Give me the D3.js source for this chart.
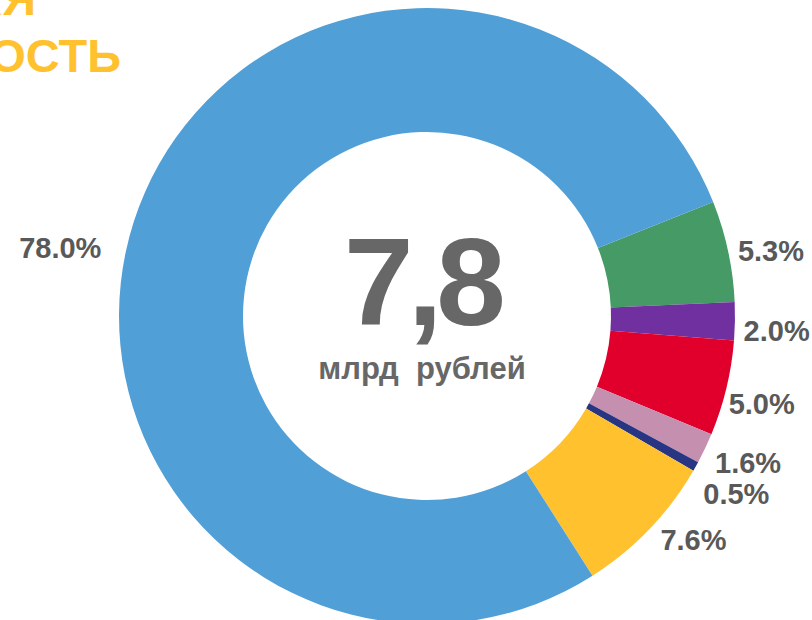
<!DOCTYPE html>
<html><head><meta charset="utf-8">
<script src="https://cdn.jsdelivr.net/npm/d3@7"></script>
<style>html,body{margin:0;padding:0;background:#fff;overflow:hidden}</style>
</head><body>
<svg id="chart" width="812" height="620"></svg>
<script>
// Data (clockwise order starting at green segment)
const categories = ["Сегмент 1", "Сегмент 2", "Сегмент 3", "Сегмент 4", "Сегмент 5", "Сегмент 6", "Сегмент 7"];
const shares = [5.3, 2.0, 5.0, 1.6, 0.5, 7.6, 78.0];
const labels = ["5.3%", "2.0%", "5.0%", "1.6%", "0.5%", "7.6%", "78.0%"];
const colors = ["#459A66", "#7030A0", "#E0002B", "#C58FB0", "#283583", "#FFC22E", "#519FD7"];
const totalValue = "7,8";
const totalUnit = "млрд  рублей";
const titleLines = ["ИНВЕСТИЦИОННАЯ", "ДОХОДНОСТЬ"];

// layout
const cx = 427, cy = 316, R = 308, r = 184;
const startDeg = 68.3;
// label placement tweaks: [angle offset deg, radius]
const labelPlace = [[1.5, 350], [1.5, 350], [1.1, 346], [-0.9, 353], [0.7, 357], [-3.8, 348], [-7.4, 373]];

const svg = d3.select("#chart");
const rad = d => d * Math.PI / 180;

const pie = d3.pie().sort(null).value(d => d)
  .startAngle(rad(startDeg)).endAngle(rad(startDeg + 360));
const arcs = pie(shares);
const arc = d3.arc().innerRadius(r).outerRadius(R);

const g = svg.append("g").attr("transform", `translate(${cx},${cy})`);
g.selectAll("path.slice").data(arcs).join("path")
  .attr("class", "slice")
  .attr("d", arc)
  .attr("fill", (d, i) => colors[i]);

// labels
g.selectAll("text.lbl").data(arcs).join("text")
  .attr("class", "lbl")
  .attr("x", (d, i) => {
    const a = (d.startAngle + d.endAngle) / 2 + rad(labelPlace[i][0]);
    return Math.sin(a) * labelPlace[i][1];
  })
  .attr("y", (d, i) => {
    const a = (d.startAngle + d.endAngle) / 2 + rad(labelPlace[i][0]);
    return -Math.cos(a) * labelPlace[i][1];
  })
  .attr("text-anchor", "middle")
  .attr("dominant-baseline", "central")
  .attr("font-family", "'Liberation Sans', Arial, sans-serif")
  .attr("font-weight", "bold")
  .attr("font-size", 29)
  .attr("fill", "#595959")
  .text((d, i) => labels[i]);

// center text
svg.append("text")
  .attr("x", 422).attr("y", 325)
  .attr("text-anchor", "middle")
  .attr("font-family", "'Liberation Sans', Arial, sans-serif")
  .attr("font-weight", "bold")
  .attr("font-size", 125)
  .attr("letter-spacing", -6)
  .attr("fill", "#676767")
  .text(totalValue);
svg.append("text")
  .attr("x", 422).attr("y", 379)
  .attr("text-anchor", "middle")
  .attr("font-family", "'Liberation Sans', Arial, sans-serif")
  .attr("font-weight", "bold")
  .attr("font-size", 31)
  .attr("fill", "#676767")
  .attr("xml:space", "preserve")
  .style("white-space", "pre")
  .text(totalUnit);

// title (cropped at left)
svg.selectAll("text.title").data(titleLines).join("text")
  .attr("class", "title")
  .attr("x", (d, i) => i === 0 ? 36 : 121)
  .attr("y", (d, i) => 15 + i * 57)
  .attr("text-anchor", "end")
  .attr("font-family", "'Liberation Sans', Arial, sans-serif")
  .attr("font-weight", "bold")
  .attr("font-size", 47)
  .attr("fill", "#FFC22E")
  .text(d => d);
</script>
</body></html>
